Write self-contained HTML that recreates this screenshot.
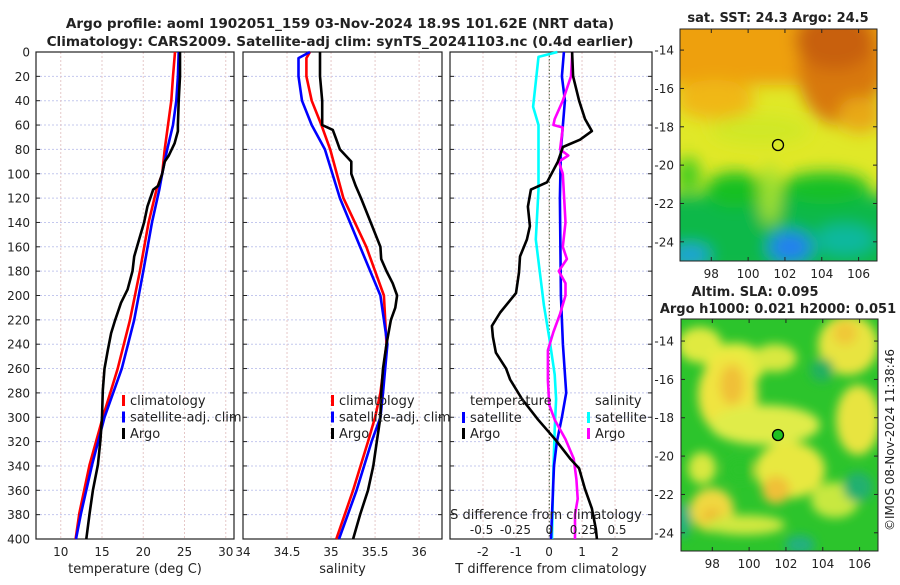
<!DOCTYPE html>
<html><head><meta charset="utf-8"><style>
body{margin:0;background:#fff;width:900px;height:580px;overflow:hidden}
svg text{font-family:"DejaVu Sans","Liberation Sans",sans-serif;fill:#222}
</style></head><body>
<svg id="chart" width="900" height="580" xmlns="http://www.w3.org/2000/svg">
<defs>
<filter id="blur1" x="-20%" y="-20%" width="140%" height="140%"><feGaussianBlur stdDeviation="8"/></filter>
<filter id="blur2" x="-20%" y="-20%" width="140%" height="140%"><feGaussianBlur stdDeviation="5"/></filter>
<clipPath id="clipm1"><rect x="680" y="29" width="197" height="232"/></clipPath>
<clipPath id="clipm2"><rect x="681" y="319" width="197" height="232"/></clipPath>
</defs>
<text x="340" y="28" text-anchor="middle" font-size="13.6" font-weight="bold">Argo profile: aoml 1902051_159 03-Nov-2024 18.9S 101.62E (NRT data)</text>
<text x="340" y="46" text-anchor="middle" font-size="13.6" font-weight="bold">Climatology: CARS2009. Satellite-adj clim: synTS_20241103.nc (0.4d earlier)</text>

<!-- map 1 -->
<g clip-path="url(#clipm1)">
<rect x="680" y="29" width="197" height="232" fill="#e0e828"/>
<g filter="url(#blur1)">
<rect x="660" y="10" width="240" height="75" fill="#eea010"/>
<ellipse cx="840" cy="70" rx="42" ry="55" fill="#d87810"/>
<ellipse cx="835" cy="40" rx="40" ry="30" fill="#c86008"/>
<ellipse cx="715" cy="100" rx="40" ry="20" fill="#f0b818"/>
<ellipse cx="860" cy="115" rx="22" ry="18" fill="#e8a818"/>
<ellipse cx="760" cy="130" rx="50" ry="15" fill="#d0e828"/>
<rect x="660" y="195" width="240" height="80" fill="#10b848"/>
<ellipse cx="735" cy="190" rx="30" ry="18" fill="#18c020"/>
<ellipse cx="825" cy="188" rx="45" ry="16" fill="#18c028"/>
<ellipse cx="688" cy="175" rx="12" ry="18" fill="#40cc20"/>
<ellipse cx="770" cy="195" rx="10" ry="30" fill="#a0e030"/>
<ellipse cx="790" cy="247" rx="22" ry="16" fill="#2080f0"/>
<ellipse cx="690" cy="255" rx="20" ry="10" fill="#20a0e0"/>
<ellipse cx="845" cy="240" rx="30" ry="15" fill="#10b8a0"/>
</g>
</g>
<rect x="680" y="29" width="197" height="232" fill="none" stroke="#222" stroke-width="1"/>
<circle cx="778" cy="145" r="5.5" fill="none" stroke="#000" stroke-width="1.3"/>
<text x="778" y="22" text-anchor="middle" font-size="13" font-weight="bold">sat. SST: 24.3 Argo: 24.5</text>

<!-- map 2 -->
<g clip-path="url(#clipm2)">
<rect x="681" y="319" width="197" height="232" fill="#2cc42c"/>
<g filter="url(#blur2)">
<ellipse cx="700" cy="345" rx="22" ry="18" fill="#e0ea40"/>
<ellipse cx="735" cy="365" rx="30" ry="22" fill="#e8ec40"/>
<ellipse cx="728" cy="395" rx="30" ry="40" fill="#f0e440"/>
<ellipse cx="732" cy="385" rx="12" ry="20" fill="#f0c038"/>
<ellipse cx="775" cy="358" rx="22" ry="14" fill="#d8e840"/>
<ellipse cx="848" cy="345" rx="30" ry="30" fill="#e8e440"/>
<ellipse cx="845" cy="333" rx="12" ry="12" fill="#f0c838"/>
<ellipse cx="858" cy="420" rx="22" ry="35" fill="#e8e440"/>
<ellipse cx="765" cy="425" rx="55" ry="20" fill="#e0ec48"/>
<ellipse cx="790" cy="470" rx="35" ry="28" fill="#e8e840"/>
<ellipse cx="776" cy="490" rx="14" ry="14" fill="#f0c038"/>
<ellipse cx="712" cy="510" rx="22" ry="22" fill="#f0d840"/>
<ellipse cx="712" cy="518" rx="9" ry="9" fill="#f0b830"/>
<ellipse cx="745" cy="525" rx="40" ry="10" fill="#d0e840"/>
<ellipse cx="702" cy="468" rx="14" ry="16" fill="#d8e840"/>
<ellipse cx="835" cy="500" rx="24" ry="18" fill="#c8e840"/>
<ellipse cx="740" cy="470" rx="14" ry="12" fill="#2cc42c"/>
<ellipse cx="858" cy="487" rx="15" ry="15" fill="#20b070"/>
<ellipse cx="800" cy="545" rx="15" ry="10" fill="#20b080"/>
<ellipse cx="683" cy="520" rx="8" ry="18" fill="#20b080"/>
<ellipse cx="822" cy="370" rx="12" ry="12" fill="#20b060"/>
</g>
</g>
<rect x="681" y="319" width="197" height="232" fill="none" stroke="#222" stroke-width="1"/>
<circle cx="778" cy="435" r="5.5" fill="#20c020" stroke="#000" stroke-width="1.3"/>
<text x="755" y="296" text-anchor="middle" font-size="13" font-weight="bold">Altim. SLA: 0.095</text>
<text x="778" y="313" text-anchor="middle" font-size="13" font-weight="bold">Argo h1000: 0.021 h2000: 0.051</text>
<text transform="translate(894,440) rotate(-90)" text-anchor="middle" font-size="12">©IMOS 08-Nov-2024 11:38:46</text>

<g id="plots"></g>
</svg>
<script>
// ---- profile data (depth dbar / values) ----
const pDepthTicks = [0,20,40,60,80,100,120,140,160,180,200,220,240,260,280,300,320,340,360,380,400];
const tTicks = [10,15,20,25,30];
const sTicks = [34,34.5,35,35.5,36];
const sTickLabels = ["34","34.5","35","35.5","36"];
const dtTicks = [-2,-1,0,1,2];
const dsTicks = [-0.5,-0.25,0,0.25,0.5];
const dsTickLabels = ["-0.5","-0.25","0","0.25","0.5"];

const tClimDepth = [0,20,40,60,80,100,113,140,180,220,260,300,339,379,400];
const tClimVal   = [23.85,23.6,23.4,23.0,22.6,22.3,21.6,20.65,19.6,18.4,16.9,15.1,13.5,12.25,11.8];
const tSatDepth  = [0,20,40,60,80,100,113,140,180,220,260,300,339,379,400];
const tSatVal    = [24.3,24.2,24.0,23.6,22.9,22.3,21.95,21.06,20.0,18.9,17.4,15.3,13.8,12.45,11.85];
const tArgoDepth = [0,20,40,60,65,75,85,90,100,110,113,127,140,154,168,180,195,206,220,231,245,260,278,300,319,339,360,379,400];
const tArgoVal   = [24.45,24.45,24.3,24.2,24.2,23.8,23.1,22.6,22.3,21.8,21.2,20.5,20.1,19.5,18.9,18.7,18.1,17.3,16.6,16.1,15.7,15.3,15.1,15.0,14.8,14.5,13.9,13.5,13.1];

const sClimDepth = [0,5,20,40,60,80,120,160,200,240,280,300,320,360,400];
const sClimVal   = [34.76,34.72,34.72,34.78,34.89,34.99,35.14,35.40,35.60,35.63,35.56,35.50,35.42,35.25,35.06];
const sSatDepth  = [0,5,20,40,60,80,120,160,200,240,280,300,320,360,400];
const sSatVal    = [34.76,34.63,34.63,34.67,34.78,34.93,35.10,35.33,35.56,35.64,35.59,35.56,35.46,35.29,35.09];
const sArgoDepth = [0,20,40,60,64,70,80,90,100,110,120,140,160,170,180,190,200,210,220,240,260,280,300,320,340,360,380,400];
const sArgoVal   = [34.875,34.875,34.9,34.9,35.02,35.05,35.10,35.23,35.23,35.28,35.34,35.45,35.56,35.57,35.63,35.70,35.75,35.73,35.68,35.63,35.59,35.57,35.56,35.52,35.48,35.42,35.33,35.25];

const dtSatDepth = [0,20,40,60,80,120,200,240,280,300,320,340,380,400];
const dtSatVal   = [0.45,0.39,0.48,0.42,0.36,0.33,0.36,0.42,0.52,0.39,0.24,0.15,0.09,0.06];
const dtArgoDepth = [0,20,40,55,65,72,78,90,107,113,127,143,154,168,181,198,214,225,234,247,260,269,285,302,318,334,342,359,375,392,400];
const dtArgoVal   = [0.7,0.73,0.91,1.09,1.3,0.94,0.42,0.27,-0.06,-0.55,-0.64,-0.58,-0.67,-0.88,-0.91,-1.0,-1.48,-1.73,-1.7,-1.61,-1.3,-1.18,-0.82,-0.33,0.18,0.64,0.91,1.09,1.3,1.42,1.45];
const dsSatDepth = [0,4,45,60,113,154,208,235,265,285,310,343,400];
const dsSatVal   = [0.06,-0.08,-0.12,-0.08,-0.08,-0.1,-0.04,0,0.04,0.05,0.04,0.03,0.02];
const dsArgoDepth = [0,20,40,55,60,62,80,85,90,100,140,160,170,180,190,200,215,230,245,270,290,302,318,334,351,367,380,400];
const dsArgoVal   = [0.17,0.16,0.1,0.04,0.03,0.1,0.08,0.14,0.07,0.1,0.12,0.1,0.13,0.07,0.12,0.12,0.08,0.03,-0.01,-0.01,0.0,0.04,0.12,0.18,0.2,0.21,0.19,0.19];

const NS='http://www.w3.org/2000/svg';
const root=document.getElementById('plots');
function mk(tag,attrs,parent){const e=document.createElementNS(NS,tag);for(const k in attrs)e.setAttribute(k,attrs[k]);(parent||root).appendChild(e);return e;}
const Y0=52,Y1=539;
const yScale=d=>Y0+(d/400)*(Y1-Y0);
function lin(d0,d1,r0,r1){return v=>r0+(v-d0)/(d1-d0)*(r1-r0);}

const panels=[
 {name:'temperature',x0:36,x1:234,sc:lin(7,31,36,234),ticks:tTicks,labels:tTicks.map(String),xlabel:'temperature (deg C)'},
 {name:'salinity',x0:243,x1:442,sc:lin(34,36.26,243,442),ticks:sTicks,labels:sTickLabels,xlabel:'salinity'},
 {name:'difference',x0:450,x1:652,sc:lin(-3,3.12,450,652),ticks:dtTicks,labels:dtTicks.map(String),xlabel:'T difference from climatology'}
];
const dsScale=lin(0,0.5,549.3,617);

panels.forEach((p,i)=>{
  const g=mk('g',{});
  
  
  pDepthTicks.forEach(d=>{
    const l=mk('line',{x1:p.x0,x2:p.x1,y1:yScale(d),y2:yScale(d),stroke:'#c4c8ee','stroke-width':1,'stroke-dasharray':'2,2'},g);
    
    
  });
  p.ticks.forEach((t,k)=>{
    const x=p.sc(t);
    const l=mk('line',{x1:x,x2:x,y1:Y0,y2:Y1,stroke:'#e6c8c8','stroke-width':1,'stroke-dasharray':'2,2'},g);
    
    
    const tx=mk('text',{x:x,y:556,'text-anchor':'middle','font-size':12},g);
    tx.textContent=p.labels[k];
    
    
  });
  pDepthTicks.forEach(d=>{
    mk('line',{x1:p.x1-4,x2:p.x1,y1:yScale(d),y2:yScale(d),stroke:'#222'},g);
    mk('line',{x1:p.x0,x2:p.x0+4,y1:yScale(d),y2:yScale(d),stroke:'#222'},g);
  });
  const fr=mk('rect',{x:p.x0,y:Y0,width:p.x1-p.x0,height:Y1-Y0,fill:'none',stroke:'#222','stroke-width':1.2},g);
  
  
  const xl=mk('text',{x:(p.x0+p.x1)/2,y:573,'text-anchor':'middle','font-size':13},g);
  xl.textContent=p.xlabel;
  
  
});
pDepthTicks.forEach(d=>{
  const t=mk('text',{x:30,y:yScale(d)+4.5,'text-anchor':'end','font-size':12});
  t.textContent=String(d);
  
  
});
const zl=mk('line',{x1:549.3,x2:549.3,y1:Y0,y2:Y1,stroke:'#445533','stroke-width':1,'stroke-dasharray':'1.5,2'});



function series(depths,vals,sc,color,name){
  const pts=depths.map((d,k)=>sc(vals[k]).toFixed(1)+','+yScale(d).toFixed(1)).join(' ');
  const e=mk('polyline',{points:pts,fill:'none',stroke:color,'stroke-width':2.6,'stroke-linejoin':'round'});
  
  
}
series(tClimDepth,tClimVal,panels[0].sc,'#ff0000','temp-climatology-line');
series(tSatDepth,tSatVal,panels[0].sc,'#0000ff','temp-satellite-line');
series(tArgoDepth,tArgoVal,panels[0].sc,'#000000','temp-argo-line');
series(sClimDepth,sClimVal,panels[1].sc,'#ff0000','sal-climatology-line');
series(sSatDepth,sSatVal,panels[1].sc,'#0000ff','sal-satellite-line');
series(sArgoDepth,sArgoVal,panels[1].sc,'#000000','sal-argo-line');
series(dsSatDepth,dsSatVal,dsScale,'#00ffff','sdiff-satellite-line');
series(dtSatDepth,dtSatVal,panels[2].sc,'#0000ff','tdiff-satellite-line');
series(dsArgoDepth,dsArgoVal,dsScale,'#ff00ff','sdiff-argo-line');
series(dtArgoDepth,dtArgoVal,panels[2].sc,'#000000','tdiff-argo-line');

dsTicks.forEach((t,k)=>{
  const tx=mk('text',{x:dsScale(t),y:534,'text-anchor':'middle','font-size':12});
  tx.textContent=dsTickLabels[k];
  
  
});
const st=mk('text',{x:546,y:519,'text-anchor':'middle','font-size':13});
st.textContent='S difference from climatology';



function legEntry(x,y,color,label,name){
  const g=mk('g',{});
  
  
  mk('rect',{x:x,y:y-10,width:3,height:11,fill:color},g);
  const t=mk('text',{x:x+8,y:y,'font-size':13},g);
  t.textContent=label;
}
[[122,'#ff0000','climatology'],[122,'#0000ff','satellite-adj. clim'],[122,'#000000','Argo']].forEach((e,k)=>legEntry(e[0],405+k*16.5,e[1],e[2],'temp-legend-entry'));
[[331,'#ff0000','climatology'],[331,'#0000ff','satellite-adj. clim'],[331,'#000000','Argo']].forEach((e,k)=>legEntry(e[0],405+k*16.5,e[1],e[2],'sal-legend-entry'));
const lt=mk('text',{x:470,y:405,'font-size':13});lt.textContent='temperature';


const ls=mk('text',{x:595,y:405,'font-size':13});ls.textContent='salinity';


legEntry(462,422,'#0000ff','satellite','tdiff-legend-satellite');
legEntry(462,438,'#000000','Argo','tdiff-legend-argo');
legEntry(587,422,'#00ffff','satellite','sdiff-legend-satellite');
legEntry(587,438,'#ff00ff','Argo','sdiff-legend-argo');

const m1Lon=[98,100,102,104,106], m1Lat=[-14,-16,-18,-20,-22,-24];
const m1x=lin(96.3,107.0,680,877), m1y=lin(-12.9,-25.0,29,261);
const m2x=lin(96.3,107.0,681,878), m2y=lin(-12.85,-24.95,319,551);
function mapTicks(xs,ys,x0,x1,y0,y1,ylabx,tag){
  m1Lon.forEach(v=>{const x=xs(v);mk('line',{x1:x,x2:x,y1:y1-4,y2:y1,stroke:'#222'});mk('line',{x1:x,x2:x,y1:y0,y2:y0+4,stroke:'#222'});
    const t=mk('text',{x:x,y:y1+17,'text-anchor':'middle','font-size':12});t.textContent=String(v);
    
    });
  m1Lat.forEach(v=>{const y=ys(v);mk('line',{x1:x0,x2:x0+4,y1:y,y2:y,stroke:'#222'});mk('line',{x1:x1-4,x2:x1,y1:y,y2:y,stroke:'#222'});
    const t=mk('text',{x:ylabx,y:y+4.5,'text-anchor':'end','font-size':12});t.textContent=String(v);
    
    });
}
mapTicks(m1x,m1y,680,877,29,261,674,'sst-map');
mapTicks(m2x,m2y,681,878,319,551,674,'sla-map');
</script>
</body></html>
